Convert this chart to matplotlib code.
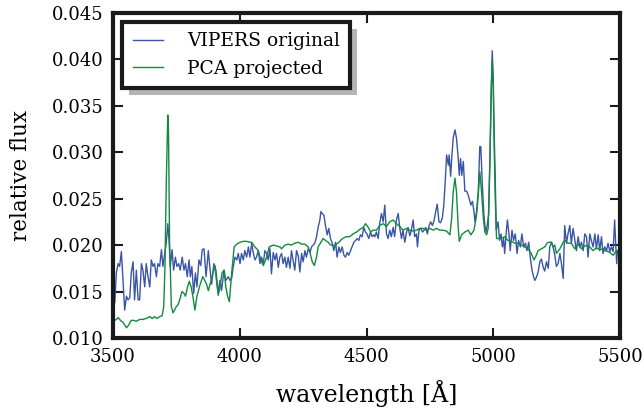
import matplotlib
matplotlib.use("Agg")
import matplotlib.pyplot as plt
import matplotlib.patheffects as pe

plt.rcParams['font.family'] = ['DejaVu Serif']
plt.rcParams['mathtext.fontset'] = 'dejavuserif'

# VIPERS original spectrum
wave_obs = [3500, 3507, 3513, 3520, 3526, 3533, 3539, 3546, 3553, 3559, 3566, 3572, 3579, 3585, 3592,
            3599, 3605, 3612, 3618, 3625, 3631, 3638, 3645, 3651, 3658, 3664, 3671, 3677, 3684, 3691,
            3697, 3704, 3710, 3716, 3721, 3726, 3733, 3739, 3746, 3752, 3759, 3765, 3773, 3780, 3786,
            3793, 3800, 3805, 3811, 3818, 3825, 3831, 3839, 3846, 3852, 3859, 3867, 3876, 3882, 3889,
            3898, 3906, 3915, 3922, 3928, 3938, 3945, 3955, 3961, 3968, 3974, 3981, 3988, 3994, 4001,
            4007, 4014, 4020, 4027, 4034, 4040, 4047, 4053, 4060, 4066, 4073, 4080, 4086, 4093, 4099,
            4106, 4112, 4119, 4125, 4132, 4139, 4145, 4152, 4158, 4165, 4171, 4178, 4184, 4191, 4198,
            4204, 4211, 4217, 4224, 4231, 4237, 4244, 4250, 4257, 4263, 4270, 4277, 4283, 4290, 4296,
            4303, 4309, 4316, 4320, 4325, 4332, 4338, 4345, 4351, 4358, 4365, 4371, 4378, 4384, 4391,
            4397, 4404, 4411, 4417, 4424, 4430, 4437, 4443, 4450, 4457, 4463, 4470, 4476, 4483, 4489,
            4496, 4502, 4509, 4516, 4522, 4529, 4533, 4539, 4546, 4552, 4559, 4566, 4572, 4579, 4585,
            4592, 4598, 4605, 4611, 4618, 4625, 4631, 4638, 4644, 4651, 4658, 4664, 4671, 4677, 4684,
            4690, 4697, 4701, 4707, 4714, 4721, 4727, 4734, 4740, 4747, 4753, 4760, 4767, 4773, 4779,
            4786, 4792, 4799, 4805, 4812, 4816, 4823, 4826, 4832, 4836, 4842, 4849, 4855, 4862, 4866,
            4871, 4876, 4882, 4888, 4895, 4901, 4908, 4912, 4918, 4924, 4928, 4934, 4941, 4947, 4951,
            4957, 4963, 4967, 4971, 4976, 4982, 4987, 4992, 4996, 5000, 5003, 5008, 5012, 5019, 5025,
            5031, 5036, 5041, 5045, 5052, 5056, 5062, 5067, 5074, 5080, 5087, 5094, 5100, 5107, 5113,
            5120, 5127, 5133, 5140, 5146, 5153, 5159, 5164, 5170, 5177, 5184, 5190, 5197, 5203, 5210,
            5217, 5223, 5230, 5236, 5243, 5249, 5256, 5263, 5269, 5276, 5282, 5289, 5295, 5302, 5308,
            5315, 5322, 5328, 5335, 5341, 5348, 5355, 5361, 5368, 5374, 5381, 5387, 5394, 5401, 5407,
            5414, 5420, 5427, 5433, 5440, 5447, 5453, 5460, 5466, 5473, 5479, 5483, 5487, 5490]
flux_obs = [0.0135, 0.0138, 0.0170, 0.0180, 0.0177, 0.0193, 0.0163, 0.0130, 0.0145, 0.0141, 0.0143, 0.0170, 0.0182, 0.0141, 0.0173,
            0.0141, 0.0141, 0.0180, 0.0173, 0.0155, 0.0180, 0.0166, 0.0155, 0.0184, 0.0177, 0.0180, 0.0166, 0.0180, 0.0177, 0.0195,
            0.0177, 0.0191, 0.0202, 0.0223, 0.0205, 0.0177, 0.0195, 0.0173, 0.0187, 0.0177, 0.0180, 0.0173, 0.0187, 0.0173, 0.0180,
            0.0166, 0.0184, 0.0166, 0.0177, 0.0148, 0.0170, 0.0155, 0.0184, 0.0178, 0.0195, 0.0196, 0.0166, 0.0194, 0.0176, 0.0158,
            0.0180, 0.0173, 0.0148, 0.0162, 0.0151, 0.0173, 0.0162, 0.0166, 0.0162, 0.0164, 0.0176, 0.0187, 0.0184, 0.0191, 0.0180,
            0.0191, 0.0184, 0.0194, 0.0187, 0.0198, 0.0187, 0.0202, 0.0192, 0.0184, 0.0187, 0.0194, 0.0180, 0.0187, 0.0180, 0.0194,
            0.0191, 0.0184, 0.0196, 0.0169, 0.0192, 0.0184, 0.0191, 0.0176, 0.0187, 0.0191, 0.0180, 0.0187, 0.0176, 0.0187, 0.0175,
            0.0194, 0.0183, 0.0173, 0.0194, 0.0188, 0.0171, 0.0191, 0.0182, 0.0194, 0.0187, 0.0196, 0.0192, 0.0198, 0.0200, 0.0202,
            0.0209, 0.0219, 0.0227, 0.0236, 0.0234, 0.0232, 0.0221, 0.0211, 0.0218, 0.0207, 0.0202, 0.0194, 0.0203, 0.0187, 0.0198,
            0.0192, 0.0198, 0.0189, 0.0187, 0.0192, 0.0189, 0.0194, 0.0198, 0.0203, 0.0205, 0.0207, 0.0205, 0.0211, 0.0209, 0.0219,
            0.0214, 0.0212, 0.0207, 0.0214, 0.0209, 0.0211, 0.0209, 0.0214, 0.0207, 0.0223, 0.0234, 0.0225, 0.0243, 0.0212, 0.0207,
            0.0216, 0.0209, 0.0219, 0.0209, 0.0227, 0.0234, 0.0219, 0.0207, 0.0216, 0.0203, 0.0214, 0.0219, 0.0210, 0.0216, 0.0227,
            0.0209, 0.0212, 0.0198, 0.0216, 0.0218, 0.0214, 0.0216, 0.0219, 0.0212, 0.0221, 0.0225, 0.0221, 0.0227, 0.0236, 0.0244,
            0.0225, 0.0224, 0.0229, 0.0243, 0.0275, 0.0297, 0.0286, 0.0297, 0.0274, 0.0293, 0.0315, 0.0324, 0.0315, 0.0293, 0.0275,
            0.0293, 0.0275, 0.0290, 0.0258, 0.0258, 0.0254, 0.0247, 0.0243, 0.0247, 0.0236, 0.0225, 0.0236, 0.0258, 0.0306, 0.0306,
            0.0265, 0.0233, 0.0221, 0.0214, 0.0221, 0.0233, 0.0293, 0.0365, 0.0409, 0.0380, 0.0330, 0.0270, 0.0216, 0.0225, 0.0205,
            0.0212, 0.0198, 0.0207, 0.0191, 0.0216, 0.0227, 0.0212, 0.0194, 0.0216, 0.0205, 0.0212, 0.0191, 0.0205, 0.0198, 0.0212,
            0.0198, 0.0202, 0.0194, 0.0203, 0.0187, 0.0173, 0.0166, 0.0162, 0.0165, 0.0171, 0.0182, 0.0185, 0.0176, 0.0172, 0.0182,
            0.0175, 0.0198, 0.0203, 0.0198, 0.0189, 0.0177, 0.0180, 0.0191, 0.0180, 0.0164, 0.0221, 0.0202, 0.0212, 0.0221, 0.0202,
            0.0218, 0.0205, 0.0194, 0.0209, 0.0198, 0.0203, 0.0194, 0.0212, 0.0209, 0.0187, 0.0212, 0.0205, 0.0198, 0.0212, 0.0196,
            0.0211, 0.0194, 0.0209, 0.0191, 0.0198, 0.0194, 0.0202, 0.0193, 0.0198, 0.0193, 0.0227, 0.0202, 0.0180, 0.0194]

# PCA projected spectrum
wave_pca = [3500, 3507, 3513, 3520, 3526, 3533, 3539, 3546, 3553, 3559, 3566, 3572, 3581, 3592, 3605,
            3618, 3631, 3645, 3655, 3664, 3673, 3684, 3694, 3700, 3705, 3710, 3716, 3719, 3723, 3730,
            3737, 3750, 3757, 3763, 3772, 3780, 3786, 3794, 3801, 3808, 3815, 3823, 3831, 3843, 3854,
            3860, 3869, 3876, 3889, 3902, 3908, 3915, 3922, 3930, 3938, 3945, 3952, 3959, 3968, 3978,
            3988, 4001, 4014, 4027, 4040, 4047, 4060, 4073, 4083, 4093, 4106, 4116, 4132, 4145, 4158,
            4165, 4178, 4191, 4204, 4217, 4231, 4244, 4257, 4270, 4277, 4286, 4294, 4303, 4309, 4320,
            4329, 4338, 4349, 4358, 4368, 4375, 4382, 4391, 4401, 4412, 4421, 4434, 4447, 4461, 4474,
            4487, 4496, 4507, 4516, 4526, 4539, 4552, 4566, 4579, 4592, 4605, 4618, 4631, 4644, 4658,
            4671, 4684, 4697, 4710, 4723, 4736, 4749, 4763, 4776, 4789, 4802, 4816, 4829, 4836, 4842,
            4849, 4855, 4862, 4866, 4875, 4888, 4901, 4912, 4924, 4934, 4941, 4947, 4954, 4961, 4967,
            4974, 4980, 4987, 4992, 4996, 5000, 5004, 5008, 5013, 5026, 5039, 5045, 5058, 5072, 5085,
            5098, 5111, 5124, 5137, 5150, 5161, 5170, 5177, 5190, 5203, 5210, 5217, 5230, 5236, 5243,
            5249, 5263, 5276, 5282, 5295, 5308, 5322, 5335, 5348, 5361, 5374, 5387, 5394, 5407, 5420,
            5433, 5440, 5453, 5460, 5473, 5486]
flux_pca = [0.0116, 0.0119, 0.0120, 0.0122, 0.0120, 0.0118, 0.0117, 0.0114, 0.0111, 0.0113, 0.0116, 0.0119, 0.0119, 0.0118, 0.0120,
            0.0120, 0.0121, 0.0123, 0.0121, 0.0123, 0.0121, 0.0123, 0.0124, 0.0134, 0.0177, 0.0266, 0.0340, 0.0320, 0.0205, 0.0134,
            0.0127, 0.0134, 0.0136, 0.0141, 0.0150, 0.0148, 0.0145, 0.0155, 0.0161, 0.0155, 0.0145, 0.0130, 0.0145, 0.0157, 0.0166,
            0.0163, 0.0158, 0.0151, 0.0164, 0.0178, 0.0162, 0.0146, 0.0155, 0.0170, 0.0173, 0.0155, 0.0145, 0.0139, 0.0170, 0.0198,
            0.0201, 0.0203, 0.0204, 0.0204, 0.0203, 0.0203, 0.0198, 0.0194, 0.0184, 0.0178, 0.0187, 0.0198, 0.0200, 0.0199, 0.0198,
            0.0196, 0.0200, 0.0201, 0.0200, 0.0202, 0.0203, 0.0201, 0.0201, 0.0198, 0.0192, 0.0182, 0.0178, 0.0187, 0.0198, 0.0203,
            0.0207, 0.0205, 0.0203, 0.0200, 0.0200, 0.0198, 0.0201, 0.0203, 0.0206, 0.0208, 0.0209, 0.0209, 0.0212, 0.0214, 0.0217,
            0.0219, 0.0223, 0.0219, 0.0214, 0.0216, 0.0216, 0.0221, 0.0223, 0.0220, 0.0225, 0.0227, 0.0223, 0.0220, 0.0216, 0.0218,
            0.0216, 0.0215, 0.0216, 0.0218, 0.0218, 0.0216, 0.0218, 0.0216, 0.0218, 0.0216, 0.0216, 0.0215, 0.0211, 0.0229, 0.0257,
            0.0272, 0.0257, 0.0218, 0.0204, 0.0211, 0.0214, 0.0216, 0.0211, 0.0216, 0.0232, 0.0254, 0.0279, 0.0257, 0.0229, 0.0214,
            0.0211, 0.0218, 0.0293, 0.0365, 0.0399, 0.0370, 0.0300, 0.0250, 0.0207, 0.0207, 0.0208, 0.0209, 0.0205, 0.0204, 0.0202,
            0.0202, 0.0200, 0.0198, 0.0196, 0.0191, 0.0184, 0.0189, 0.0194, 0.0196, 0.0198, 0.0201, 0.0203, 0.0203, 0.0198, 0.0200,
            0.0191, 0.0196, 0.0203, 0.0205, 0.0202, 0.0202, 0.0196, 0.0201, 0.0196, 0.0199, 0.0200, 0.0196, 0.0194, 0.0197, 0.0195,
            0.0196, 0.0194, 0.0193, 0.0192, 0.0189, 0.0194]

x_ticks = [3500, 4000, 4500, 5000, 5500]
y_ticks = [0.010, 0.015, 0.020, 0.025, 0.030, 0.035, 0.040, 0.045]

fig = plt.figure(figsize=(6.44, 4.11), dpi=100)
ax = fig.add_axes([0.1755, 0.1776, 0.7872, 0.7915])

ax.plot(wave_obs, flux_obs, color='#3a55a8', lw=1.0, label='VIPERS original')
ax.plot(wave_pca, flux_pca, color='#138a3c', lw=1.0, label='PCA projected')

ax.set_xlim(3500, 5500)
ax.set_ylim(0.010, 0.045)
ax.set_xticks(x_ticks)
ax.set_yticks(y_ticks)
ax.set_yticklabels(['%.3f' % v for v in y_ticks])

for s in ax.spines.values():
    s.set_linewidth(3.0)
    s.set_color('#1a1a1a')
ax.tick_params(direction='in', length=7, width=1.5, top=True, right=True,
               labelsize=13, pad=7, color='#1a1a1a')

ax.set_xlabel(u'wavelength [Å]', fontsize=17, labelpad=10)
ax.set_ylabel('relative flux', fontsize=15.5, labelpad=14)

# legend with a flat grey drop shadow
leg = ax.legend(loc='upper left', fontsize=13.5, fancybox=False, shadow=False,
                framealpha=1, borderpad=0.55, labelspacing=0.5,
                handlelength=1.6, handletextpad=1.3, borderaxespad=0.5)
frame = leg.get_frame()
frame.set_linewidth(3.0)
frame.set_edgecolor('#1a1a1a')
frame.set_path_effects([pe.SimplePatchShadow(offset=(5, -5), shadow_rgbFace='#b2b4b7', alpha=1.0),
                        pe.Normal()])

fig.savefig('out.png', dpi=100)
